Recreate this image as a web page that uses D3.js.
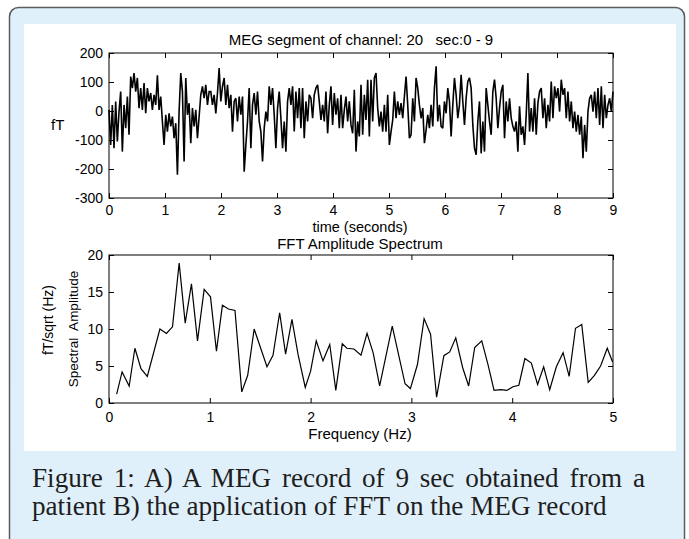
<!doctype html>
<html>
<head>
<meta charset="utf-8">
<title>MEG segment and FFT amplitude spectrum</title>
<script src="https://d3js.org/d3.v7.min.js"></script>
<style>
  html, body { margin: 0; background: #fff; }
  svg { display: block; }
  .ax text { font-family: "Liberation Sans", Arial, sans-serif; font-size: 14px; fill: #000; }
  .ax line { stroke: #000; }
  .lbl { font-family: "Liberation Sans", Arial, sans-serif; fill: #000; }
</style>
</head>
<body>
<svg id="fig" width="689" height="539"></svg>
<script>
// MEG trace, channel 20, 0-9 s (fT)
var megValues = [
  4,-117,21,-128,33,-105,-2,67,-140,21,-59,50,-82,119,79,131,67,114,10,79,
  4,96,-8,79,33,62,4,56,21,123,4,50,-36,-117,-13,-71,-8,-53,-19,-94,
  -42,-220,-2,131,67,-174,114,-13,27,-111,10,-53,4,-94,-19,56,85,44,90,21,67,
  67,21,56,-8,62,148,33,85,114,21,90,10,56,-71,33,44,-36,50,-13,50,
  -209,-117,-36,79,-128,21,62,-13,67,-36,-71,-174,-59,-2,-36,85,21,79,-13,-128,
  10,67,-25,-128,-36,-140,33,79,21,85,-71,67,-25,79,-59,79,-94,33,-36,56,
  44,-25,56,79,90,33,-31,21,-36,67,-77,21,85,-48,62,-13,44,-59,56,-59,
  4,50,-36,33,-48,-77,73,-140,-36,-88,90,-82,56,-31,108,-88,108,-36,114,131,
  10,-53,-2,-71,21,-71,56,-117,-71,-31,67,-25,33,-13,27,-25,50,119,21,-94,
  -82,44,-36,114,79,21,-25,10,-111,-65,-13,-59,21,-53,79,154,-36,21,-53,-59,
  33,-8,79,33,-88,21,114,56,-25,21,125,33,-48,44,102,114,79,-48,-128,-151,
  -36,33,-146,-36,-140,79,21,-36,-82,67,108,44,-59,10,67,90,-94,33,-36,44,
  -25,-53,-71,-36,-140,16,-82,-53,-117,-13,131,-71,10,-71,44,-82,27,67,79,-25,
  44,-59,21,-36,102,-25,85,44,79,-2,108,56,79,-25,67,-36,33,-59,-2,-71,
  -13,-82,-19,-163,-48,-140,-2,44,56,-2,67,-25,79,-48,85,-59,56,-25,21,44,-2,67
];
var megDuration = 9; // seconds, samples evenly spaced

// FFT amplitude spectrum
var fftFreq = [
  0.076,0.13,0.2,0.257,0.317,0.38,0.505,0.57,0.63,0.696,0.756,0.818,0.878,0.944,1.007,
  1.066,1.125,1.185,1.25,1.317,1.376,1.44,1.5,1.567,1.627,1.693,1.752,1.815,1.875,1.947,
  2.0,2.056,2.123,2.19,2.25,2.314,2.36,2.43,2.5,2.56,2.62,2.685,2.81,2.87,2.937,
  2.99,3.06,3.126,3.19,3.25,3.322,3.38,3.44,3.508,3.568,3.628,3.698,3.76,3.82,3.887,
  3.947,4.007,4.066,4.126,4.19,4.252,4.312,4.372,4.438,4.505,4.565,4.628,4.69,4.754,4.814,
  4.877,4.943,4.996
];
var fftAmp = [
  1.2,4.2,2.3,7.4,4.65,3.6,10.0,9.4,10.3,18.9,10.8,16.1,8.4,15.35,14.35,
  7.0,13.2,12.7,12.5,1.5,3.75,10.0,7.6,4.9,6.45,12.2,6.6,11.3,6.6,2.1,
  4.3,8.4,5.7,7.9,1.7,8.0,7.4,7.3,6.45,9.4,6.8,2.3,10.4,6.7,2.6,
  1.95,5.2,11.4,9.3,0.8,6.4,6.9,8.8,4.8,2.3,7.5,8.4,5.2,1.7,1.8,
  1.7,2.2,2.4,6.0,5.4,2.5,4.9,1.8,4.9,6.8,3.6,10.1,10.6,2.8,3.7,
  5.0,7.4,5.55
];

var timeTicks = [0,1,2,3,4,5,6,7,8,9];
var fTTicks = [-300,-200,-100,0,100,200];
var freqTicks = [0,1,2,3,4,5];
var ampTicks = [0,5,10,15,20];

var captionLines = [
  "Figure 1: A) A MEG record of 9 sec obtained from a",
  "patient B) the application of FFT on the MEG record"
];

var svg = d3.select("#fig");
var plain = function (d) { return String(d); }; // hyphen minus like the original

// frame
svg.append("rect").attr("x", 9.5).attr("y", 7.5).attr("width", 675).attr("height", 570)
  .attr("rx", 9).attr("fill", "#e0f0fa").attr("stroke", "#5c5c5c").attr("stroke-width", 1.5);
svg.append("rect").attr("x", 24).attr("y", 24).attr("width", 652).attr("height", 427).attr("fill", "#fff");

function drawBox(x, y, xt, yt, xPad) {
  var g = svg.append("g");
  var x0 = x.range()[0], x1 = x.range()[1];
  var y0 = y.range()[0], y1 = y.range()[1];
  g.append("g").attr("class", "ax").attr("transform", "translate(0," + y0 + ")")
    .call(d3.axisBottom(x).tickValues(xt).tickSizeInner(-5).tickSizeOuter(0).tickPadding(xPad).tickFormat(plain))
    .call(function (s) { s.select(".domain").remove(); });
  g.append("g").attr("class", "ax").attr("transform", "translate(0," + y1 + ")")
    .call(d3.axisTop(x).tickValues(xt).tickSizeInner(-5).tickSizeOuter(0).tickFormat(""))
    .call(function (s) { s.select(".domain").remove(); });
  g.append("g").attr("class", "ax").attr("transform", "translate(" + x0 + ",0)")
    .call(d3.axisLeft(y).tickValues(yt).tickSizeInner(-5).tickSizeOuter(0).tickPadding(6).tickFormat(plain))
    .call(function (s) { s.select(".domain").remove(); });
  g.append("g").attr("class", "ax").attr("transform", "translate(" + x1 + ",0)")
    .call(d3.axisRight(y).tickValues(yt).tickSizeInner(-5).tickSizeOuter(0).tickFormat(""))
    .call(function (s) { s.select(".domain").remove(); });
  g.append("rect").attr("x", x0).attr("y", y1).attr("width", x1 - x0).attr("height", y0 - y1)
    .attr("fill", "none").attr("stroke", "#000").attr("stroke-width", 1);
  return g;
}

// top: MEG segment
var xT = d3.scaleLinear().domain([0, 9]).range([109, 613]);
var yT = d3.scaleLinear().domain([-300, 200]).range([198, 53]);
var dt = megDuration / (megValues.length - 1);

svg.append("path")
  .datum(megValues)
  .attr("fill", "none").attr("stroke", "#000").attr("stroke-width", 1.6)
  .attr("stroke-linejoin", "miter").attr("stroke-miterlimit", 2)
  .attr("d", d3.line().x(function (d, i) { return xT(i * dt); }).y(function (d) { return yT(d); }));
drawBox(xT, yT, timeTicks, fTTicks, 7);

svg.append("text").attr("class", "lbl").attr("x", 361).attr("y", 45).attr("text-anchor", "middle")
  .style("font-size", "15px").attr("xml:space", "preserve").text("MEG segment of channel: 20   sec:0 - 9");
svg.append("text").attr("class", "lbl").attr("x", 51).attr("y", 130).style("font-size", "15px").text("fT");
svg.append("text").attr("class", "lbl").attr("x", 360).attr("y", 231.5).attr("text-anchor", "middle")
  .style("font-size", "14.5px").text("time (seconds)");

// bottom: FFT
var xF = d3.scaleLinear().domain([0, 5]).range([109, 613]);
var yF = d3.scaleLinear().domain([0, 20]).range([403, 255]);

svg.append("path")
  .datum(d3.zip(fftFreq, fftAmp))
  .attr("fill", "none").attr("stroke", "#000").attr("stroke-width", 1.2)
  .attr("d", d3.line().x(function (d) { return xF(d[0]); }).y(function (d) { return yF(d[1]); }));
drawBox(xF, yF, freqTicks, ampTicks, 9);

svg.append("text").attr("class", "lbl").attr("x", 360).attr("y", 249).attr("text-anchor", "middle")
  .style("font-size", "15px").text("FFT Amplitude Spectrum");
svg.append("text").attr("class", "lbl").attr("x", 360).attr("y", 439).attr("text-anchor", "middle")
  .style("font-size", "15px").text("Frequency (Hz)");
svg.append("text").attr("class", "lbl").attr("transform", "translate(53,320) rotate(-90)")
  .attr("text-anchor", "middle").style("font-size", "14px").text("fT/sqrt (Hz)");
svg.append("text").attr("class", "lbl").attr("transform", "translate(78,329) rotate(-90)")
  .attr("text-anchor", "middle").style("font-size", "13.5px").attr("xml:space", "preserve").text("Spectral  Amplitude");

// caption, first line justified
var capFont = "'Liberation Serif', 'Times New Roman', serif";
var cap2 = svg.append("text").attr("x", 32).attr("y", 515).attr("fill", "#1e1e1e")
  .style("font-family", capFont).style("font-size", "22px").text(captionLines[1]);
var w2 = cap2.node().getComputedTextLength();
var fs = 22 * 575 / w2;
cap2.style("font-size", fs + "px");
var cap1 = svg.append("text").attr("x", 32).attr("y", 487).attr("fill", "#1e1e1e")
  .style("font-family", capFont).style("font-size", fs + "px").text(captionLines[0]);
var w1 = cap1.node().getComputedTextLength();
var nSp = captionLines[0].split(" ").length - 1;
cap1.style("word-spacing", ((613 - w1) / nSp) + "px");
</script>
</body>
</html>
